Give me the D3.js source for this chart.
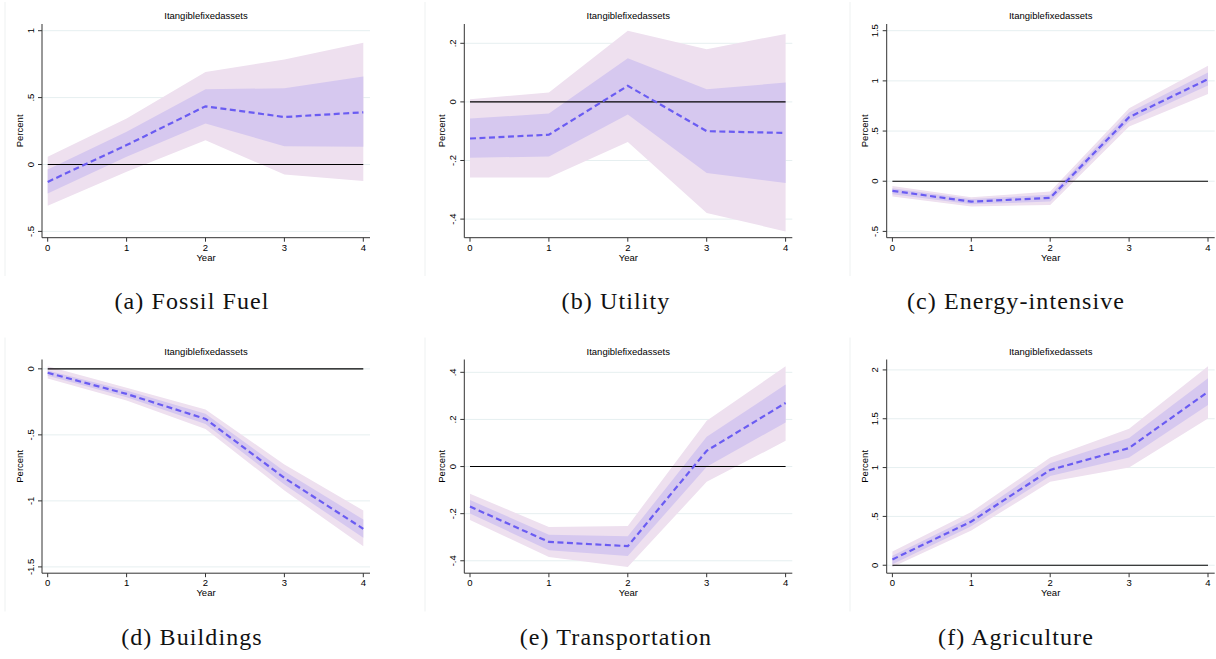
<!DOCTYPE html>
<html lang="en">
<head>
<meta charset="utf-8">
<title>Itangiblefixedassets</title>
<script src="https://d3js.org/d3.v7.min.js"></script>
<style type="text/css">
	body { margin: 0; background: #fff; }
	svg { display: block; }
</style>
</head>
<body>
<svg id="chart" width="1216" height="659"></svg>
<script type="text/javascript">
// data
const years = [0, 1, 2, 3, 4]
const captions = ["(a) Fossil Fuel", "(b) Utility", "(c) Energy-intensive",
	"(d) Buildings", "(e) Transportation", "(f) Agriculture"]
const panelTitle = "Itangiblefixedassets"

const yTicks = [
	[-0.5, 0, 0.5, 1],
	[-0.4, -0.2, 0, 0.2],
	[-0.5, 0, 0.5, 1, 1.5],
	[-1.5, -1, -0.5, 0],
	[-0.4, -0.2, 0, 0.2, 0.4],
	[0, 0.5, 1, 1.5, 2]
]

const est = [
	[-0.13, 0.145, 0.435, 0.355, 0.39],
	[-0.125, -0.112, 0.055, -0.1, -0.106],
	[-0.096, -0.203, -0.166, 0.638, 1.017],
	[-0.03, -0.19, -0.379, -0.826, -1.212],
	[-0.17, -0.32, -0.338, 0.067, 0.27],
	[0.059, 0.448, 0.976, 1.2, 1.776]
]
// inner band
const innerLo = [
	[-0.216, 0.057, 0.306, 0.137, 0.132],
	[-0.191, -0.186, -0.043, -0.243, -0.277],
	[-0.13, -0.229, -0.203, 0.595, 0.953],
	[-0.053, -0.215, -0.417, -0.876, -1.28],
	[-0.199, -0.355, -0.38, -0.001, 0.187],
	[0.01, 0.4, 0.914, 1.103, 1.641]
]
const innerHi = [
	[-0.037, 0.244, 0.562, 0.57, 0.657],
	[-0.057, -0.04, 0.149, 0.043, 0.066],
	[-0.07, -0.176, -0.136, 0.684, 1.083],
	[-0.013, -0.164, -0.341, -0.775, -1.141],
	[-0.142, -0.289, -0.296, 0.126, 0.348],
	[0.097, 0.493, 1.045, 1.303, 1.914]
]
// outer band
const outerLo = [
	[-0.308, -0.055, 0.182, -0.075, -0.124],
	[-0.258, -0.258, -0.137, -0.379, -0.442],
	[-0.153, -0.252, -0.236, 0.545, 0.87],
	[-0.073, -0.24, -0.455, -0.922, -1.343],
	[-0.227, -0.384, -0.426, -0.065, 0.109],
	[-0.017, 0.355, 0.855, 1.0, 1.503]
]
const outerHi = [
	[0.057, 0.343, 0.692, 0.784, 0.91],
	[0.009, 0.032, 0.243, 0.18, 0.232],
	[-0.047, -0.16, -0.103, 0.728, 1.15],
	[0.02, -0.144, -0.308, -0.725, -1.073],
	[-0.115, -0.257, -0.252, 0.194, 0.426],
	[0.141, 0.545, 1.103, 1.397, 2.038]
]

// layout
const colAxis = [42, 464.3, 886.7]
const colFrame = [5, 425, 850]
const colCaption = [192, 616, 1016]
const rowTop = [0, 335.5]
const rowCaption = [309, 645]

const outerCol = "#eee0ef"
const innerCol = "#d6c8ef"
const lineCol = "#6a5cf2"
const gridCol = "#e6eff0"
const axisCol = "#333"

// stata style number: .5, -.5, 1.5
function fmt(v) {
	let s = String(+v.toFixed(2))
	return s.replace(/^0\./, ".").replace(/^-0\./, "-.")
}

const svg = d3.select("#chart")

for (let p = 0; p < 6; p++) {
	const col = p % 3, row = Math.floor(p / 3)
	const ax = colAxis[col]
	const top = rowTop[row]
	const g = svg.append("g").attr("transform", `translate(0,${top})`)

	// faint frame line
	g.append("line")
		.attr("x1", colFrame[col]).attr("x2", colFrame[col])
		.attr("y1", 2).attr("y2", 276)
		.attr("stroke", "#eef1f1").attr("stroke-width", 1)

	const x = d3.scaleLinear().domain([0, 4]).range([ax + 5.7, ax + 321.3])
	const lo = Math.min(d3.min(outerLo[p]), d3.min(yTicks[p]))
	const hi = Math.max(d3.max(outerHi[p]), d3.max(yTicks[p]))
	const y = d3.scaleLinear().domain([lo, hi]).range([231.4, 30.7])
	const right = ax + 328
	const axTop = 24, axBot = 237.7

	// grid
	g.selectAll(".grid").data(yTicks[p]).enter().append("line")
		.attr("x1", ax).attr("x2", right)
		.attr("y1", d => y(d)).attr("y2", d => y(d))
		.attr("stroke", gridCol).attr("stroke-width", 1)

	const rows = years.map((yr, i) => ({
		yr: yr, e: est[p][i],
		il: innerLo[p][i], ih: innerHi[p][i],
		ol: outerLo[p][i], oh: outerHi[p][i]
	}))

	g.append("path").datum(rows)
		.attr("fill", outerCol)
		.attr("d", d3.area().x(d => x(d.yr)).y0(d => y(d.ol)).y1(d => y(d.oh)))
	g.append("path").datum(rows)
		.attr("fill", innerCol)
		.attr("d", d3.area().x(d => x(d.yr)).y0(d => y(d.il)).y1(d => y(d.ih)))

	// zero line
	g.append("line")
		.attr("x1", x(0)).attr("x2", x(4))
		.attr("y1", y(0)).attr("y2", y(0))
		.attr("stroke", "#000").attr("stroke-width", 1.1)

	g.append("path").datum(rows)
		.attr("fill", "none")
		.attr("stroke", lineCol)
		.attr("stroke-width", 2.2)
		.attr("stroke-dasharray", "6,3.5")
		.attr("d", d3.line().x(d => x(d.yr)).y(d => y(d.e)))

	// axes
	g.append("line").attr("x1", ax).attr("x2", ax).attr("y1", axTop).attr("y2", axBot)
		.attr("stroke", axisCol).attr("stroke-width", 1)
	g.append("line").attr("x1", ax).attr("x2", right).attr("y1", axBot).attr("y2", axBot)
		.attr("stroke", axisCol).attr("stroke-width", 1)

	// y ticks + rotated labels
	yTicks[p].forEach(t => {
		g.append("line").attr("x1", ax - 4).attr("x2", ax)
			.attr("y1", y(t)).attr("y2", y(t))
			.attr("stroke", axisCol).attr("stroke-width", 1)
		g.append("text")
			.attr("transform", `translate(${ax - 8.5},${y(t)}) rotate(-90)`)
			.attr("text-anchor", "middle")
			.attr("font-family", "Liberation Sans, Arial, sans-serif")
			.attr("font-size", 9.5)
			.attr("fill", "#000")
			.text(fmt(t))
	})

	// x ticks
	years.forEach(t => {
		g.append("line").attr("x1", x(t)).attr("x2", x(t))
			.attr("y1", axBot).attr("y2", axBot + 4)
			.attr("stroke", axisCol).attr("stroke-width", 1)
		g.append("text")
			.attr("x", x(t)).attr("y", axBot + 13)
			.attr("text-anchor", "middle")
			.attr("font-family", "Liberation Sans, Arial, sans-serif")
			.attr("font-size", 9.5)
			.text(t)
	})

	g.append("text")
		.attr("x", (ax + right) / 2).attr("y", axBot + 23)
		.attr("text-anchor", "middle")
		.attr("font-family", "Liberation Sans, Arial, sans-serif")
		.attr("font-size", 9.5)
		.text("Year")

	g.append("text")
		.attr("transform", `translate(${ax - 19},${(axTop + axBot) / 2}) rotate(-90)`)
		.attr("text-anchor", "middle")
		.attr("font-family", "Liberation Sans, Arial, sans-serif")
		.attr("font-size", 9.5)
		.text("Percent")

	g.append("text")
		.attr("x", (ax + right) / 2).attr("y", 19.3)
		.attr("text-anchor", "middle")
		.attr("font-family", "Liberation Sans, Arial, sans-serif")
		.attr("font-size", 9.5)
		.text(panelTitle)

	// caption
	svg.append("text")
		.attr("x", colCaption[col]).attr("y", rowCaption[row])
		.attr("text-anchor", "middle")
		.attr("font-family", "Liberation Serif, serif")
		.attr("font-size", 24)
		.attr("letter-spacing", 1.1)
		.attr("fill", "#111")
		.text(captions[p])
}
</script>
</body>
</html>
